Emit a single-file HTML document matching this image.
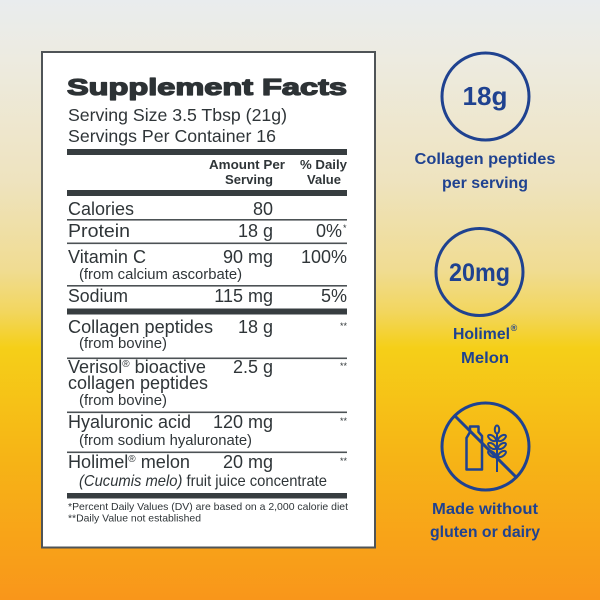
<!DOCTYPE html>
<html><head><meta charset="utf-8"><style>
html,body{margin:0;padding:0;width:600px;height:600px;overflow:hidden}
svg{display:block}
</style></head><body>
<svg width="600" height="600" viewBox="0 0 600 600" xmlns="http://www.w3.org/2000/svg">
<defs>
<linearGradient id="bg" x1="0" y1="0" x2="0" y2="1">
<stop offset="0" stop-color="#e9ecee"/>
<stop offset="0.1" stop-color="#edebe0"/>
<stop offset="0.3" stop-color="#eee3bf"/>
<stop offset="0.45" stop-color="#f0dc92"/>
<stop offset="0.52" stop-color="#f2d65e"/>
<stop offset="0.58" stop-color="#f5cf18"/>
<stop offset="0.75" stop-color="#f6b616"/>
<stop offset="1" stop-color="#f9961a"/>
</linearGradient>
</defs>
<rect width="600" height="600" fill="url(#bg)"/>
<rect x="42" y="52" width="333" height="495.5" fill="#fff" stroke="#4f5457" stroke-width="2"/>
<g font-family="Liberation Sans, Arial, sans-serif" fill="#2f3538">
<text x="67" y="95" font-size="23" font-weight="bold" stroke="#2d3235" stroke-width="1.3" stroke-linejoin="round" textLength="280" lengthAdjust="spacingAndGlyphs" fill="#2d3235">Supplement Facts</text>
<text x="68" y="121" font-size="17.5" textLength="219" lengthAdjust="spacingAndGlyphs">Serving Size 3.5 Tbsp (21g)</text>
<text x="68" y="142" font-size="17.5" textLength="208" lengthAdjust="spacingAndGlyphs">Servings Per Container 16</text>
<rect x="67" y="149" width="280" height="6" fill="#373d40"/>
<g font-size="12.5" font-weight="bold">
<text x="209" y="169" textLength="76" lengthAdjust="spacingAndGlyphs">Amount Per</text>
<text x="225" y="184" textLength="48" lengthAdjust="spacingAndGlyphs">Serving</text>
<text x="300" y="169" textLength="47" lengthAdjust="spacingAndGlyphs">% Daily</text>
<text x="307" y="184" textLength="34" lengthAdjust="spacingAndGlyphs">Value</text>
</g>
<rect x="67" y="190" width="280" height="6" fill="#373d40"/>
<g font-size="18">
<text x="68" y="215" textLength="66" lengthAdjust="spacingAndGlyphs">Calories</text>
<text x="273" y="215" text-anchor="end">80</text>
<rect x="67" y="219" width="280" height="1.6" fill="#4c5255"/>
<text x="68" y="237" textLength="62" lengthAdjust="spacingAndGlyphs">Protein</text>
<text x="273" y="237" text-anchor="end">18 g</text>
<text x="342" y="237" text-anchor="end">0%</text>
<text x="343" y="231" font-size="9">*</text>
<rect x="67" y="242.5" width="280" height="1.6" fill="#4c5255"/>
<text x="68" y="263" textLength="78" lengthAdjust="spacingAndGlyphs">Vitamin C</text>
<text x="273" y="263" text-anchor="end">90 mg</text>
<text x="347" y="263" text-anchor="end">100%</text>
<text x="79" y="279" font-size="15" textLength="163" lengthAdjust="spacingAndGlyphs">(from calcium ascorbate)</text>
<rect x="67" y="285" width="280" height="1.6" fill="#4c5255"/>
<text x="68" y="302" textLength="60" lengthAdjust="spacingAndGlyphs">Sodium</text>
<text x="273" y="302" text-anchor="end">115 mg</text>
<text x="347" y="302" text-anchor="end">5%</text>
<rect x="67" y="308.5" width="280" height="6" fill="#373d40"/>
<text x="68" y="333" textLength="145" lengthAdjust="spacingAndGlyphs">Collagen peptides</text>
<text x="273" y="333" text-anchor="end">18 g</text>
<text x="347" y="329" text-anchor="end" font-size="9">**</text>
<text x="79" y="348" font-size="15" textLength="88" lengthAdjust="spacingAndGlyphs">(from bovine)</text>
<rect x="67" y="357.5" width="280" height="1.6" fill="#4c5255"/>
<text x="68" y="373" textLength="138" lengthAdjust="spacingAndGlyphs">Verisol<tspan font-size="10" dy="-6">®</tspan><tspan dy="6"> bioactive</tspan></text>
<text x="273" y="373" text-anchor="end">2.5 g</text>
<text x="347" y="369" text-anchor="end" font-size="9">**</text>
<text x="68" y="389" textLength="140" lengthAdjust="spacingAndGlyphs">collagen peptides</text>
<text x="79" y="405" font-size="15" textLength="88" lengthAdjust="spacingAndGlyphs">(from bovine)</text>
<rect x="67" y="411.5" width="280" height="1.6" fill="#4c5255"/>
<text x="68" y="428" textLength="123" lengthAdjust="spacingAndGlyphs">Hyaluronic acid</text>
<text x="273" y="428" text-anchor="end">120 mg</text>
<text x="347" y="424" text-anchor="end" font-size="9">**</text>
<text x="79" y="445" font-size="15" textLength="173" lengthAdjust="spacingAndGlyphs">(from sodium hyaluronate)</text>
<rect x="67" y="451.5" width="280" height="1.6" fill="#4c5255"/>
<text x="68" y="468" textLength="122" lengthAdjust="spacingAndGlyphs">Holimel<tspan font-size="10" dy="-6">®</tspan><tspan dy="6"> melon</tspan></text>
<text x="273" y="468" text-anchor="end">20 mg</text>
<text x="347" y="464" text-anchor="end" font-size="9">**</text>
<text x="79" y="486" font-size="16" textLength="248" lengthAdjust="spacingAndGlyphs"><tspan font-style="italic">(Cucumis melo)</tspan> fruit juice concentrate</text>
</g>
<rect x="67" y="493" width="280" height="5.5" fill="#373d40"/>
<text x="68" y="510" font-size="10.5" textLength="280" lengthAdjust="spacingAndGlyphs">*Percent Daily Values (DV) are based on a 2,000 calorie diet</text>
<text x="68" y="521.5" font-size="10.5" textLength="133" lengthAdjust="spacingAndGlyphs">**Daily Value not established</text>
</g>
<g font-family="Liberation Sans, Arial, sans-serif" font-weight="bold" fill="#1f4290" text-anchor="middle">
<circle cx="485.5" cy="96.5" r="43.5" fill="none" stroke="#1f4290" stroke-width="3"/>
<text x="485" y="105" font-size="26" textLength="45" lengthAdjust="spacingAndGlyphs">18g</text>
<text x="485" y="164" font-size="16" textLength="141" lengthAdjust="spacingAndGlyphs">Collagen peptides</text>
<text x="485" y="188" font-size="16" textLength="86" lengthAdjust="spacingAndGlyphs">per serving</text>
<circle cx="479.5" cy="272" r="43.5" fill="none" stroke="#1f4290" stroke-width="3"/>
<text x="479.5" y="281" font-size="25" textLength="61" lengthAdjust="spacingAndGlyphs">20mg</text>
<text x="481.5" y="339" font-size="16" textLength="57" lengthAdjust="spacingAndGlyphs">Holimel</text>
<text x="514" y="331" font-size="9">®</text>
<text x="485" y="363" font-size="16" textLength="48" lengthAdjust="spacingAndGlyphs">Melon</text>
<circle cx="485.5" cy="446.5" r="43.5" fill="none" stroke="#1f4290" stroke-width="3"/>
<line x1="455" y1="416" x2="516" y2="477" stroke="#1f4290" stroke-width="3"/>
<path d="M466.5 469.5 L466.5 438 L470 432 L470 426.5 L478.5 426.5 L478.5 432 L482 436 L482 469.5 Z" fill="none" stroke="#1f4290" stroke-width="2.5" stroke-linejoin="round"/>
<g fill="none" stroke="#1f4290" stroke-width="2">
<line x1="497" y1="433" x2="497" y2="472"/>
<ellipse cx="497" cy="429.5" rx="2.2" ry="4"/>
<ellipse cx="492" cy="438" rx="4.5" ry="2.2" transform="rotate(35 492 438)"/>
<ellipse cx="502" cy="438" rx="4.5" ry="2.2" transform="rotate(-35 502 438)"/>
<ellipse cx="492" cy="446" rx="4.5" ry="2.2" transform="rotate(35 492 446)"/>
<ellipse cx="502" cy="446" rx="4.5" ry="2.2" transform="rotate(-35 502 446)"/>
<ellipse cx="492" cy="454" rx="4.5" ry="2.2" transform="rotate(35 492 454)"/>
<ellipse cx="502" cy="454" rx="4.5" ry="2.2" transform="rotate(-35 502 454)"/>
</g>
<text x="485" y="514" font-size="16" textLength="106" lengthAdjust="spacingAndGlyphs">Made without</text>
<text x="485" y="537" font-size="16" textLength="110" lengthAdjust="spacingAndGlyphs">gluten or dairy</text>
</g>
</svg>
</body></html>
